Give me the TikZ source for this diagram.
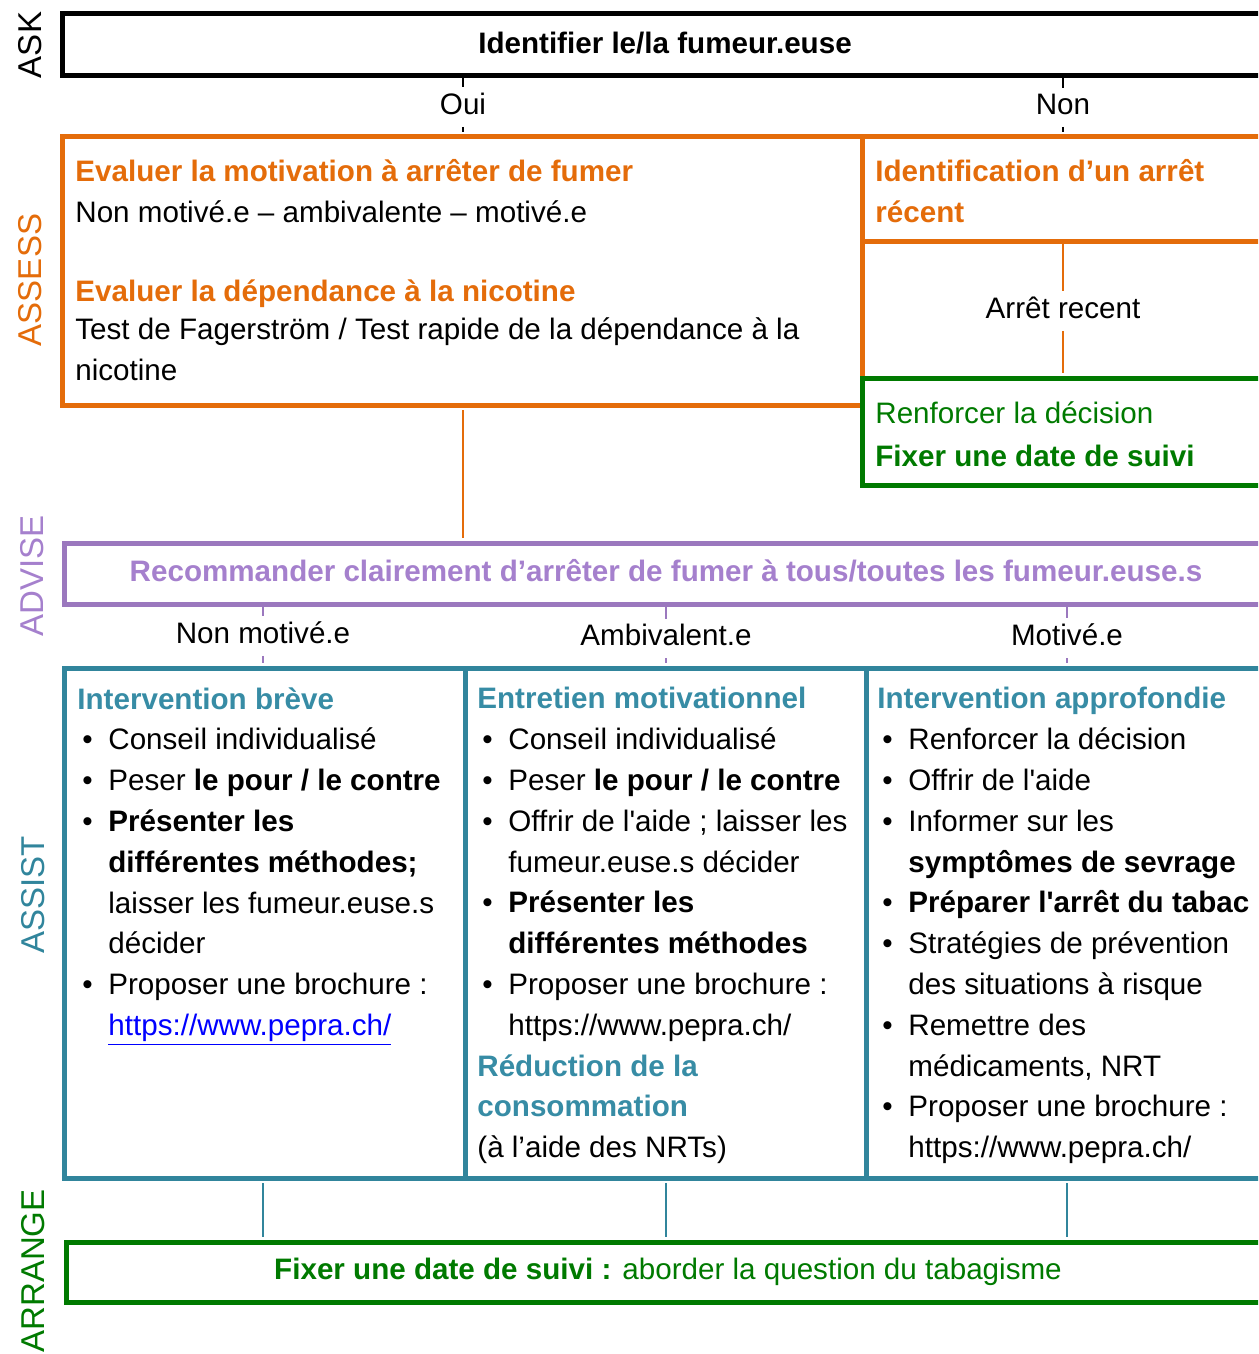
\documentclass[tikz,border=0pt]{standalone}
\usepackage{fontspec}
\setmainfont{Liberation Sans}
\usetikzlibrary{positioning,fit}

\definecolor{askorange}{RGB}{228,108,10}
\definecolor{askgreen}{RGB}{0,122,0}
\definecolor{askpurple}{RGB}{155,120,190}
\definecolor{purpletext}{RGB}{165,128,205}
\definecolor{askteal}{RGB}{49,133,156}
\definecolor{tealtext}{RGB}{55,140,165}
\definecolor{linkblue}{RGB}{0,0,255}

\newcommand\bodysize{\fontsize{14.8pt}{20.4pt}\selectfont}
\newcommand\stagesize{\fontsize{16.5pt}{20pt}\selectfont}
\newcommand\bul{\makebox[15.5pt][l]{\hspace{2.5pt}\textbullet}}
\newcommand\ind{\hspace*{15.5pt}}

\begin{document}
\begin{tikzpicture}[x=0.5pt, y=-0.5pt,
  box/.style={draw, line width=2.5pt, inner sep=0pt},
  txt/.style={anchor=north west, align=left, inner sep=0pt, font=\bodysize},
  lab/.style={anchor=base, inner sep=2.5pt, text depth=2.5pt, font=\bodysize},
  stage/.style={rotate=90, font=\stagesize},
  conn/.style={line width=1pt, shorten <=1.25pt, shorten >=1.25pt}]
\useasboundingbox (0,0) rectangle (1258,1354);
\clip (0,0) rectangle (1258,1354);

% stages on the left
\node[stage] (sask) at (30,45) {ASK};
\node[stage, text=askorange] (sassess) at (30,280) {ASSESS};
\node[stage, text=purpletext] (sadvise) at (32,576) {ADVISE};
\node[stage, text=askteal] (sassist) at (33,895) {ASSIST};
\node[stage, text=askgreen] (sarrange) at (33,1271) {ARRANGE};

% boxes
\node[box, draw=black, fit={(62,14) (1290,76)}] (ask) {};
\node[box, draw=askorange, fit={(62,137) (862,405)}] (assess) {};
\node[box, draw=askorange, fit={(862,137) (1290,241)}] (recent) {};
\node[box, draw=askgreen, fit={(862,378) (1290,485)}] (keep) {};
\node[box, draw=askpurple, fit={(64,543) (1290,604)}] (advise) {};
\node[box, draw=askteal, fit={(64,668) (465,1178)}] (brief) {};
\node[box, draw=askteal, fit={(465,668) (866,1178)}] (motiv) {};
\node[box, draw=askteal, fit={(866,668) (1290,1178)}] (deep) {};
\node[box, draw=askgreen, fit={(66,1242) (1290,1302)}] (arrange) {};

% texts
\node[anchor=base, font=\bodysize\bfseries] (task) at (665,53.5) {Identifier le/la fumeur.euse};
\node[txt] (tassess) at (75,159) {\textcolor{askorange}{\bfseries Evaluer la motivation à arrêter de fumer}\\
Non motivé.e – ambivalente – motivé.e\\[19pt]
\textcolor{askorange}{\bfseries Evaluer la dépendance à la nicotine}\\[-1pt]
Test de Fagerström / Test rapide de la dépendance à la\\
nicotine};
\node[txt, text=askorange, font=\bodysize\bfseries] (trecent) at (875,159) {Identification d’un arrêt\\ récent};
\node[txt, text=askgreen] (tkeep) at (875,401) {Renforcer la décision\\[1.5pt] \textbf{Fixer une date de suivi}};
\node[anchor=base, font=\bodysize\bfseries, text=purpletext] (tadvise) at (666,581.5) {Recommander clairement d’arrêter de fumer à tous/toutes les fumeur.euse.s};
\node[txt] (tbrief) at (77,687) {\textcolor{tealtext}{\bfseries Intervention brève}\\
\bul Conseil individualisé\\
\bul Peser \textbf{le pour / le contre}\\
\bul \textbf{Présenter les}\\
\ind \textbf{différentes méthodes;}\\
\ind laisser les fumeur.euse.s\\
\ind décider\\
\bul Proposer une brochure :\\
\ind \textcolor{linkblue}{\underline{https://www.pepra.ch/}}};
\node[txt] (tmotiv) at (477,687) {\textcolor{tealtext}{\bfseries Entretien motivationnel}\\
\bul Conseil individualisé\\
\bul Peser \textbf{le pour / le contre}\\
\bul Offrir de l\textquotesingle aide ; laisser les\\
\ind fumeur.euse.s décider\\
\bul \textbf{Présenter les}\\
\ind \textbf{différentes méthodes}\\
\bul Proposer une brochure :\\
\ind https://www.pepra.ch/\\
\textcolor{tealtext}{\bfseries Réduction de la}\\
\textcolor{tealtext}{\bfseries consommation}\\
(à l’aide des NRTs)};
\node[txt] (tdeep) at (877,687) {\textcolor{tealtext}{\bfseries Intervention approfondie}\\
\bul Renforcer la décision\\
\bul Offrir de l\textquotesingle aide\\
\bul Informer sur les\\
\ind \textbf{symptômes de sevrage}\\
\bul \textbf{Préparer l\textquotesingle arrêt du tabac}\\
\bul Stratégies de prévention\\
\ind des situations à risque\\
\bul Remettre des\\
\ind médicaments, NRT\\
\bul Proposer une brochure :\\
\ind https://www.pepra.ch/};
\node[anchor=base, font=\bodysize, text=askgreen] (tarrange) at (668,1279.5) {\textbf{Fixer une date de suivi :} aborder la question du tabagisme};

% connector labels
\node[lab] (oui) at (463,114) {Oui};
\node[lab] (non) at (1063,114) {Non};
\node[lab] (arr) at (1063,318) {Arrêt recent};
\node[lab] (nm) at (263,643) {Non motivé.e};
\node[lab] (amb) at (666,645.5) {Ambivalent.e};
\node[lab] (mot) at (1067,645.5) {Motivé.e};

% connectors
\draw[conn] (ask.south -| oui) -- (oui) -- (assess.north -| oui);
\draw[conn] (ask.south -| non) -- (non) -- (recent.north -| non);
\draw[conn, askorange] (recent.south -| arr) -- (arr) -- (keep.north -| arr);
\draw[conn, askorange] (assess.south -| oui) -- (advise.north -| oui);
\draw[conn, askpurple] (advise.south -| nm) -- (nm) -- (brief.north -| nm);
\draw[conn, askpurple] (advise.south -| amb) -- (amb) -- (motiv.north -| amb);
\draw[conn, askpurple] (advise.south -| mot) -- (mot) -- (deep.north -| mot);
\draw[conn, askteal] (brief.south -| nm) -- (arrange.north -| nm);
\draw[conn, askteal] (motiv.south -| amb) -- (arrange.north -| amb);
\draw[conn, askteal] (deep.south -| mot) -- (arrange.north -| mot);
\end{tikzpicture}
\end{document}
